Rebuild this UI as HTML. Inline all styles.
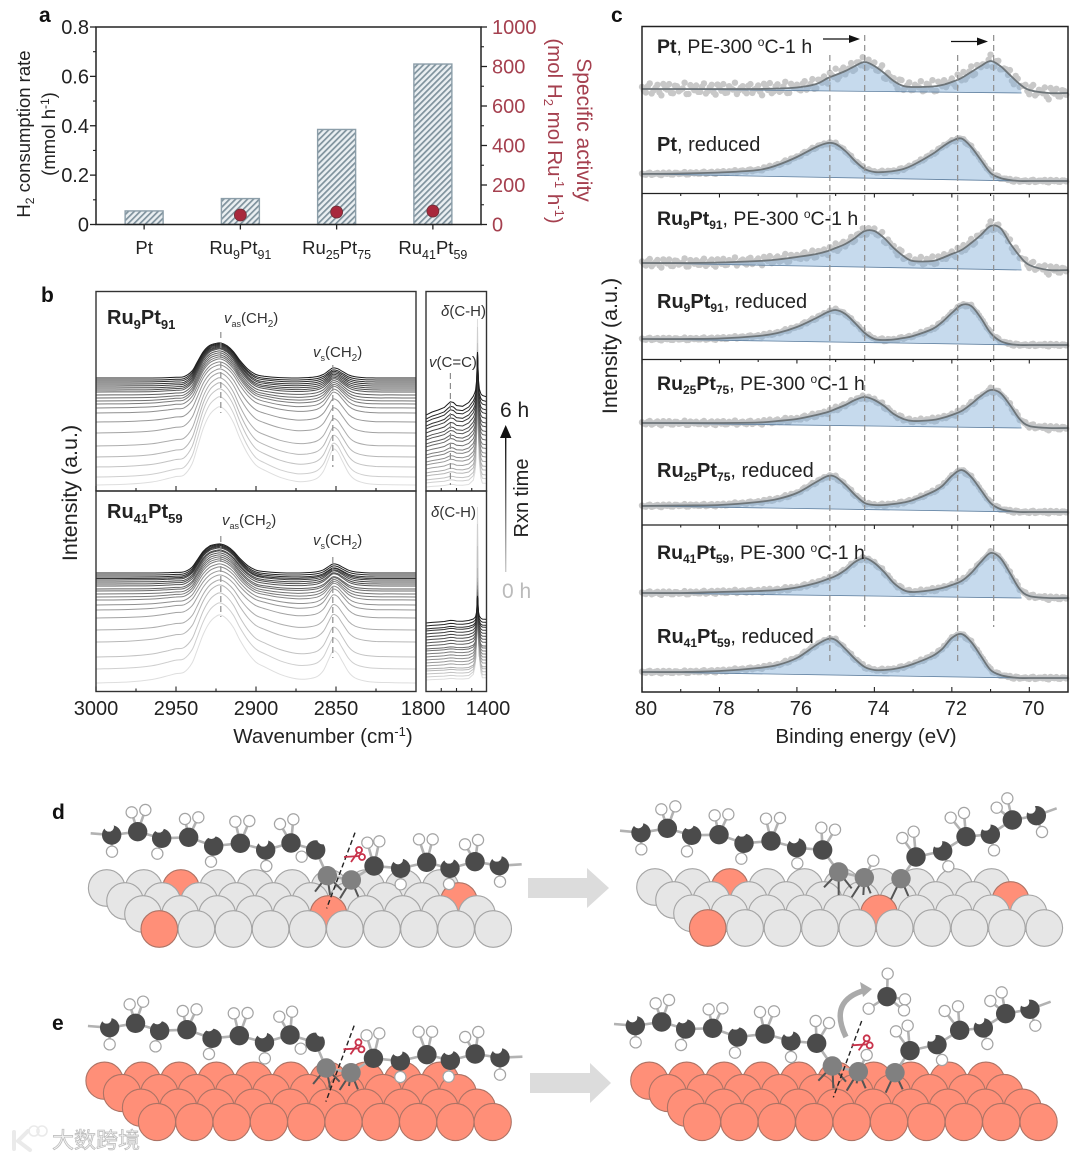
<!DOCTYPE html>
<html lang="en">
<head>
<meta charset="utf-8">
<title>Catalyst characterization figure</title>
<style>
html,body{margin:0;padding:0;background:#fff}
svg{display:block;position:absolute;left:0;top:0}
text{font-family:"Liberation Sans","Noto Sans CJK SC",sans-serif;fill:#222}
.b{font-weight:bold}
.tk{font-size:20px}
.cl{font-size:18.5px}
.pn{font-size:21px;font-weight:bold;fill:#111}
.bd{font-size:15px;fill:#333}
.red{fill:#a5404f}
</style>
</head>
<body>
<svg id="fig" xmlns="http://www.w3.org/2000/svg" width="1080" height="1159" viewBox="0 0 1080 1159">
<defs>
<pattern id="hatch" patternUnits="userSpaceOnUse" width="4.2" height="4.2" patternTransform="rotate(-45)">
<rect width="4.2" height="4.2" fill="#eaeff2"/>
<rect width="4.2" height="1.7" fill="#7f929d"/>
</pattern>
<clipPath id="clipB1"><rect x="426" y="291" width="61" height="200"/></clipPath>
<clipPath id="clipB2"><rect x="426" y="491" width="61" height="201"/></clipPath>
<linearGradient id="timeGrad" x1="0" y1="0" x2="0" y2="1"><stop offset="0" stop-color="#111"/><stop offset="1" stop-color="#ccc"/></linearGradient>
</defs>

<!-- panel letters -->
<text class="pn" x="39" y="22">a</text>
<text class="pn" x="41" y="302">b</text>
<text class="pn" x="611" y="22">c</text>
<text class="pn" x="52" y="819">d</text>
<text class="pn" x="52" y="1030">e</text>

<!-- panel a titles -->
<text font-size="18.5" transform="translate(30,134) rotate(-90)" text-anchor="middle">H<tspan font-size="12" dy="4">2</tspan><tspan dy="-4"> consumption rate</tspan></text>
<text font-size="18.5" transform="translate(55,134) rotate(-90)" text-anchor="middle">(mmol h<tspan font-size="12" dy="-6">-1</tspan><tspan dy="6">)</tspan></text>
<text font-size="21" class="red" transform="translate(577,130) rotate(90)" text-anchor="middle">Specific activity</text>
<text font-size="20.5" class="red" transform="translate(548,131) rotate(90)" text-anchor="middle">(mol H<tspan font-size="13" dy="4">2</tspan><tspan dy="-4"> mol Ru</tspan><tspan font-size="13" dy="-7">-1</tspan><tspan dy="7"> h</tspan><tspan font-size="13" dy="-7">-1</tspan><tspan dy="7">)</tspan></text>

<!-- panel b text -->
<text font-size="20" class="b" x="107" y="324">Ru<tspan font-size="13" dy="5">9</tspan><tspan dy="-5">Pt</tspan><tspan font-size="13" dy="5">91</tspan></text>
<text font-size="20" class="b" x="107" y="518">Ru<tspan font-size="13" dy="5">41</tspan><tspan dy="-5">Pt</tspan><tspan font-size="13" dy="5">59</tspan></text>
<text class="bd" x="224" y="323"><tspan font-style="italic">v</tspan><tspan font-size="9" dy="4">as</tspan><tspan dy="-4">(CH</tspan><tspan font-size="10" dy="4">2</tspan><tspan dy="-4">)</tspan></text>
<text class="bd" x="313" y="357"><tspan font-style="italic">v</tspan><tspan font-size="9" dy="4">s</tspan><tspan dy="-4">(CH</tspan><tspan font-size="10" dy="4">2</tspan><tspan dy="-4">)</tspan></text>
<text class="bd" x="222" y="525"><tspan font-style="italic">v</tspan><tspan font-size="9" dy="4">as</tspan><tspan dy="-4">(CH</tspan><tspan font-size="10" dy="4">2</tspan><tspan dy="-4">)</tspan></text>
<text class="bd" x="313" y="545"><tspan font-style="italic">v</tspan><tspan font-size="9" dy="4">s</tspan><tspan dy="-4">(CH</tspan><tspan font-size="10" dy="4">2</tspan><tspan dy="-4">)</tspan></text>
<text class="bd" x="441" y="316"><tspan font-style="italic">δ</tspan>(C-H)</text>
<text class="bd" x="429" y="367"><tspan font-style="italic">v</tspan>(C=C)</text>
<text class="bd" x="431" y="517"><tspan font-style="italic">δ</tspan>(C-H)</text>
<text font-size="21.5" transform="translate(77,493) rotate(-90)" text-anchor="middle">Intensity (a.u.)</text>
<text font-size="20.5" x="323" y="743" text-anchor="middle">Wavenumber (cm<tspan font-size="13" dy="-7">-1</tspan><tspan dy="7">)</tspan></text>
<text font-size="21" x="500" y="417">6 h</text>
<text font-size="21" x="502" y="598" style="fill:#bbb">0 h</text>
<text font-size="20" transform="translate(528,498) rotate(-90)" text-anchor="middle">Rxn time</text>
<rect x="505" y="436" width="1.4" height="136" fill="url(#timeGrad)"/>
<polygon points="505.7,425 500,438 511.4,438" fill="#111"/>

<!-- panel c text -->
<text font-size="21.5" transform="translate(617,346) rotate(-90)" text-anchor="middle">Intensity (a.u.)</text>
<text font-size="20.5" x="866" y="743" text-anchor="middle">Binding energy (eV)</text>

<g id="root"></g>

<g id="clabels">
<text font-size="19.5" x="657" y="53"><tspan class="b">Pt</tspan>, PE-300 <tspan font-size="12" dy="-7">o</tspan><tspan dy="7">C-1 h</tspan></text>
<text font-size="20" x="657" y="151"><tspan class="b">Pt</tspan>, reduced</text>
<text font-size="19.5" x="657" y="225"><tspan class="b">Ru</tspan><tspan class="b" font-size="12" dy="4">9</tspan><tspan class="b" dy="-4">Pt</tspan><tspan class="b" font-size="12" dy="4">91</tspan><tspan dy="-4">, PE-300 </tspan><tspan font-size="12" dy="-7">o</tspan><tspan dy="7">C-1 h</tspan></text>
<text font-size="20" x="657" y="308"><tspan class="b">Ru</tspan><tspan class="b" font-size="12" dy="4">9</tspan><tspan class="b" dy="-4">Pt</tspan><tspan class="b" font-size="12" dy="4">91</tspan><tspan dy="-4">, reduced</tspan></text>
<text font-size="19.5" x="657" y="390"><tspan class="b">Ru</tspan><tspan class="b" font-size="12" dy="4">25</tspan><tspan class="b" dy="-4">Pt</tspan><tspan class="b" font-size="12" dy="4">75</tspan><tspan dy="-4">, PE-300 </tspan><tspan font-size="12" dy="-7">o</tspan><tspan dy="7">C-1 h</tspan></text>
<text font-size="20" x="657" y="477"><tspan class="b">Ru</tspan><tspan class="b" font-size="12" dy="4">25</tspan><tspan class="b" dy="-4">Pt</tspan><tspan class="b" font-size="12" dy="4">75</tspan><tspan dy="-4">, reduced</tspan></text>
<text font-size="19.5" x="657" y="559"><tspan class="b">Ru</tspan><tspan class="b" font-size="12" dy="4">41</tspan><tspan class="b" dy="-4">Pt</tspan><tspan class="b" font-size="12" dy="4">59</tspan><tspan dy="-4">, PE-300 </tspan><tspan font-size="12" dy="-7">o</tspan><tspan dy="7">C-1 h</tspan></text>
<text font-size="20" x="657" y="643"><tspan class="b">Ru</tspan><tspan class="b" font-size="12" dy="4">41</tspan><tspan class="b" dy="-4">Pt</tspan><tspan class="b" font-size="12" dy="4">59</tspan><tspan dy="-4">, reduced</tspan></text>
</g>

<!-- shift arrows -->
<g><line x1="823" y1="39" x2="852" y2="39" stroke="#111" stroke-width="1.3"/><polygon points="860,39 849,35 849,43" fill="#111"/></g>
<g><line x1="951" y1="41.5" x2="980" y2="41.5" stroke="#111" stroke-width="1.3"/><polygon points="988,41.5 977,37.5 977,45.5" fill="#111"/></g>

<!-- process arrows -->
<polygon points="528,878 587,878 587,868 609,888 587,908 587,898 528,898" fill="#dcdcdc"/>
<polygon points="530,1073 590,1073 590,1063 611,1083 590,1103 590,1093 530,1093" fill="#dcdcdc"/>

<g id="mech"></g>

<!-- watermark -->
<g>
<path d="M14 1132 L14 1149 M28 1131 L18 1141 L30 1150" fill="none" stroke="#eaeaea" stroke-width="4" stroke-linecap="round"/>
<circle cx="34" cy="1131" r="5" fill="none" stroke="#eaeaea" stroke-width="1.6"/>
<circle cx="42" cy="1131" r="5" fill="none" stroke="#eaeaea" stroke-width="1.6"/>
<text x="52" y="1148" font-size="22" style="fill:#f2f2f2;stroke:#b9b9b9;stroke-width:.7">大数跨境</text>
</g>

<script>
/* ---------- panel a data ---------- */
var categories = ['Pt', 'Ru9Pt91', 'Ru25Pt75', 'Ru41Pt59'];
var h2Rates = [0.055, 0.105, 0.385, 0.65];
var specificActivity = [null, 48, 63, 68];
var leftTicks = [0, 0.2, 0.4, 0.6, 0.8];
var rightTicks = [0, 200, 400, 600, 800, 1000];

/* ---------- panel b data ---------- */
var wavenumbers = [3000,2980,2965,2955,2950,2945,2940,2937,2933,2929,2925,2922,2918,2914,2910,2905,2900,2895,2885,2875,2868,2862,2858,2855,2852,2849,2846,2842,2838,2832,2825,2815,2800];
var asBand = [0,0,0,.01,.02,.04,.2,.43,.75,.93,.99,1,.92,.75,.5,.25,.1,.05,.01,0,0,0,0,0,0,0,0,0,0,0,0,0,0];
var sBand = [0,0,0,0,0,0,0,0,0,0,0,0,0,0,0,0,0,0,0,0,.04,.14,.35,.68,1,.93,.66,.3,.12,.03,0,0,0];
var broadBand = [0,.03,.1,.2,.25,.27,.38,.5,.68,.85,.97,1,.95,.87,.75,.62,.5,.42,.24,.12,.08,.06,.05,.05,.05,.05,.05,.05,.04,.03,.02,.01,0];
var ru9Base = [0,8,18,28,39,52,63,72,77,81,84,87,90,93,95,97,99,101,103,105,107];
var ru9As = [48,52,52,50,46,40,36,34,34,35,36,37,37,37,38,38,37,37,36,36,35];
var ru9S = [34,32,30,28,26,24,22,20,18,17,16,15,14,13,12.5,12,11.5,11,10.5,10,10];
var ru9Broad = [30,28,26,24,22,20,17,14,12,10,8,6,5,4,3,2,2,1,1,0,0];
var ru41Base = [0,14,26,41,53,65,73,78,83,86,89,92,94,97,99,101,103,104.5,106,108,110];
var ru41As = [33,33,34,30,26,23,23,25,26,28,29,29,30,30,30,30,30,30.5,30,30,29];
var ru41S = [30,29,28,26,24,22,20,18,16,15,14,13,12,12,11,11,10,10,9,9,9];
var ru41Broad = [35,33,30,27,24,20,16,13,10,8,6,5,4,3,3,2,2,1,1,0,0];
var lowWavenumbers = [1800,1760,1720,1680,1660,1640,1620,1600,1560,1520,1490,1480,1475,1468,1462,1456,1450,1440,1430,1400];
var lowBroad = [0,.12,.2,.3,.42,.53,.5,.38,.35,.5,.72,.8,.85,.92,1,.92,.85,.8,.78,.72];
var lowSpike = [0,0,0,0,0,0,0,0,0,0,.02,.06,.1,.3,1,.3,.12,.03,0,0];
var lowRu9Base = [0,4,7,11,14,18,22,25,29,32,36,40,43,47,50,54,58,61,65,68,72];
var lowRu9BroadAmp = [5,6,7,8,9,10,11,12,13,14,15,16,17,18,19,20,21,22,23,24,25];
var lowRu9SpikeAmp = [163,150,130,118,108,100,94,90,85,80,74,70,66,62,60,56,52,50,46,42,38];
var lowRu41Base = [0,3,6,9,11,14,17,20,23,26,29,31,34,37,40,43,46,49,51,54,57];
var lowRu41BroadAmp = [3,3,3,3,3,4,4,4,4,4,4,4,5,5,5,5,5,5,5,5,5];
var lowRu41SpikeAmp = [170,150,125,100,88,80,74,70,64,60,55,50,46,42,38,35,32,29,27,24,22];
var highTicks = [3000, 2950, 2900, 2850];
var highTickLabels = ['3000', '2950', '2900', '2850'];
var lowTickLabels = ['1800', '1400'];

/* ---------- panel c data ---------- */
var energies = [80,79,78,77,76.5,76,75.5,75.2,75,74.75,74.5,74.25,74,73.75,73.5,73.25,73,72.5,72.25,72,71.75,71.5,71.25,71,70.75,70.5,70.25,70,69.5,69];
var ptPE = [4,4,4,4,4.5,5.5,9,15,18,22,27,31,27,20,12,7,6,6.5,8,11,15,21,27,32,27,18,9,3,0,0];
var ptReduced = [7,7.5,8.5,11,16,24,34,38,37,30,20,12,9,9,10,12,16,27,34,40,42.5,34,21,8,3,1,0,0,0,0];
var ru9PE = [7,7,7.5,9,10.5,13,16,19,22,26,32,39,39,32,22,14,9,9,12,16,20,27,35,44,42,27,14,5,0,0];
var ru9Reduced = [6,6,6.5,9,12,18,27,33,35,31,22,12,6,5,5.5,7,9,16,23,32,40,39,27,12,4,1,0,0,0,0];
var ru25PE = [5,5,5,5.5,7,9,13,16,19,23,28,31,28,22,14,9,7,8,10,13,17,24,32,38,35,23,9,2,0,0];
var ru25Reduced = [6,6.5,7,10,13,19,30,36,35,27,17,9,7,7,8,9.5,12,20,26,36,42,35,22,9,3,1,0,0,0,0];
var ru41PE = [5,5,6,7,8,10.5,15,19,22,28,36,40,35,26,15,8,6,8,10,13,17,25,36,45,40,25,9,2,0,0];
var ru41Reduced = [6,6,7,10,13,20,33,39,38,29,19,11,8,8,9,11,14,22,29,40,44,36,22,8,3,1,0,0,0,0];
var stackOffsets = [599, 511, 422, 347, 264, 180, 94, 14];
var scatterSpread = [7, 1.5, 5, 1.5, 2.5, 1.5, 2, 1.5];
var scatterResiduals = [.3,-.5,.8,-.2,.6,-.9,.1,.7,-.6,.4,-.1,.9,-.7,.2,.5,-.4,.8,-.3,.6,-.8,.3,.7,-.5,.1,.9,-.2,.4,-.6,.7,-.1,.5,-.9,.2,.8,-.4,.6,-.3,.9,-.7,.1,.4,-.5,.7,-.2,.8,-.6,.3,.5,-.8,.2,.9,-.4,.6,-.1,.7,-.5,.3,.8,-.7,.1,.5,-.3,.9,-.6,.2,.4,-.8,.7,-.2,.6,-.4,.1,.8,-.5,.3,.9,-.7,.2,.6,-.1,.5,-.9,.4,.7,-.3,.8,-.6,.2,.1,-.4,.9,-.5,.6,-.2,.3,.7,-.8,.5,-.1,.4,-.6,.8,-.3,.2,.7,-.9,.1,.6,-.5,.3];
var energyTicks = [80, 78, 76, 74, 72, 70];
var reducedPeaks = [75.15, 71.85];
var shiftedPeaks = [74.25, 70.92];

/* ---------- helpers ---------- */
var NS = 'http://www.w3.org/2000/svg';
var root = document.getElementById('root');
function mk(tag, attrs, parent) {
  var e = document.createElementNS(NS, tag);
  for (var k in attrs) e.setAttribute(k, attrs[k]);
  (parent || root).appendChild(e);
  return e;
}
function smoothPath(pts) {
  var d = 'M' + pts[0][0].toFixed(1) + ' ' + pts[0][1].toFixed(1);
  for (var i = 0; i < pts.length - 1; i++) {
    var p0 = pts[Math.max(i - 1, 0)], p1 = pts[i], p2 = pts[i + 1], p3 = pts[Math.min(i + 2, pts.length - 1)];
    var c1x = p1[0] + (p2[0] - p0[0]) / 6, c1y = p1[1] + (p2[1] - p0[1]) / 6;
    var c2x = p2[0] - (p3[0] - p1[0]) / 6, c2y = p2[1] - (p3[1] - p1[1]) / 6;
    d += 'C' + c1x.toFixed(1) + ' ' + c1y.toFixed(1) + ' ' + c2x.toFixed(1) + ' ' + c2y.toFixed(1) + ' ' + p2[0].toFixed(1) + ' ' + p2[1].toFixed(1);
  }
  return d;
}
function polyPath(pts) {
  return 'M' + pts.map(function (p) { return p[0].toFixed(1) + ' ' + p[1].toFixed(1); }).join('L');
}
function tickLine(parent, x1, y1, x2, y2, w) {
  var t = mk('line', {x1: x1, y1: y1, x2: x2, y2: y2, stroke: '#222', 'stroke-width': w || 1.1}, parent);
  
  
  return t;
}

/* ---------- panel a ---------- */
var gA = mk('g', {});


var aLeft = 96, aRight = 481, aBottom = 224.5, aTop = 27;
function xA(i) { return aLeft + (i + 0.5) * (aRight - aLeft) / categories.length; }
function yRate(v) { return aBottom - v / 0.8 * (aBottom - aTop); }
function yActivity(v) { return aBottom - v / 1000 * (aBottom - aTop); }
categories.forEach(function (c, i) {
  var bar = mk('rect', {x: xA(i) - 19, y: yRate(h2Rates[i]), width: 38, height: aBottom - yRate(h2Rates[i]), fill: 'url(#hatch)', stroke: '#8c9ea9', 'stroke-width': 1.4}, gA);
  
  
});
var frameA = mk('path', {d: 'M' + aLeft + ' ' + aBottom + 'V' + aTop + 'H' + aRight + 'V' + aBottom + 'Z', fill: 'none', stroke: '#222', 'stroke-width': 1.5}, gA);


specificActivity.forEach(function (v, i) {
  if (v === null) return;
  var dot = mk('circle', {cx: xA(i), cy: yActivity(v), r: 6, fill: '#a8283c', stroke: '#6b3038', 'stroke-width': 0.8}, gA);
  
  
});
leftTicks.forEach(function (v, i) {
  tickLine(gA, aLeft - 6, yRate(v), aLeft, yRate(v), 1.3);
  if (i < leftTicks.length - 1) tickLine(gA, aLeft - 3, yRate(v + 0.1), aLeft, yRate(v + 0.1));
  var t = mk('text', {x: aLeft - 7, y: yRate(v) + 7, 'text-anchor': 'end', 'class': 'tk'}, gA);
  t.textContent = v === 0 ? '0' : v.toFixed(1);
  
  
});
rightTicks.forEach(function (v, i) {
  tickLine(gA, aRight, yActivity(v), aRight + 6, yActivity(v), 1.3);
  if (i < rightTicks.length - 1) tickLine(gA, aRight, yActivity(v + 100), aRight + 3, yActivity(v + 100));
  var t = mk('text', {x: 492, y: yActivity(v) + 7, 'class': 'tk red'}, gA);
  t.textContent = String(v);
  
  
});
categories.forEach(function (c, i) {
  tickLine(gA, xA(i), aBottom, xA(i), aBottom + 5, 1.3);
  var t = mk('text', {x: xA(i), y: 254, 'text-anchor': 'middle', 'class': 'cl'}, gA);
  
  
  c.match(/[A-Za-z]+|\d+/g).forEach(function (part) {
    var isNum = /\d/.test(part);
    var s = mk('tspan', {}, t);
    s.textContent = part;
    if (isNum) { s.setAttribute('font-size', '12.5'); s.setAttribute('dy', '5'); }
    else if (t.childNodes.length > 1) { s.setAttribute('dy', '-5'); }
  });
});

/* ---------- panel b ---------- */
var gB = mk('g', {});


function xHigh(w) { return 96 + (3000 - w) * 1.6; }
function xLow(w) { return 426 + (1800 - w) * 0.1525; }
function yRu9(v) { return 485 - v; }
function yRu41(v) { return 683 - v; }
function yLowRu9(v) { return 487 - v; }
function yLowRu41(v) { return 680 - v; }
function traceColor(i, n) {
  var g = Math.round(222 - (222 - 28) * Math.pow(i / (n - 1), 0.85));
  return 'rgb(' + g + ',' + g + ',' + g + ')';
}
function drawHigh(base, as, s, broad, yFn) {
  base.forEach(function (b, i) {
    var pts = wavenumbers.map(function (w, k) {
      return [xHigh(w), yFn(b + as[i] * asBand[k] + s[i] * sBand[k] + broad[i] * broadBand[k])];
    });
    var p = mk('path', {d: smoothPath(pts), fill: 'none', stroke: traceColor(i, base.length), 'stroke-width': 1}, gB);
    
    
  });
}
function drawLow(base, broadAmp, spikeAmp, yFn, clip) {
  var gc = mk('g', {'clip-path': 'url(#' + clip + ')'}, gB);
  
  
  base.forEach(function (b, i) {
    var pts = lowWavenumbers.map(function (w, k) {
      return [xLow(w), yFn(b + broadAmp[i] * lowBroad[k] + spikeAmp[i] * lowSpike[k])];
    });
    var p = mk('path', {d: polyPath(pts), fill: 'none', stroke: traceColor(i, base.length), 'stroke-width': 1}, gc);
    
    
  });
}
drawHigh(ru9Base, ru9As, ru9S, ru9Broad, yRu9);
drawHigh(ru41Base, ru41As, ru41S, ru41Broad, yRu41);
drawLow(lowRu9Base, lowRu9BroadAmp, lowRu9SpikeAmp, yLowRu9, 'clipB1');
drawLow(lowRu41Base, lowRu41BroadAmp, lowRu41SpikeAmp, yLowRu41, 'clipB2');
function dashV(parent, x, y1, y2, name, dash) {
  var l = mk('line', {x1: x, y1: y1, x2: x, y2: y2, stroke: '#8d8d8d', 'stroke-width': 1.2, 'stroke-dasharray': dash || '6 4'}, parent);
  
  
}
dashV(gB, xHigh(2922), 332, 413, 'peak-guide-vas-top');
dashV(gB, xHigh(2852), 365, 467, 'peak-guide-vs-top');
dashV(gB, xHigh(2922), 536, 617, 'peak-guide-vas-bottom');
dashV(gB, xHigh(2852), 557, 658, 'peak-guide-vs-bottom');
dashV(gB, xLow(1640), 373, 485, 'peak-guide-vcc');
[[96, 416], [426, 486.5]].forEach(function (r, idx) {
  var f1 = mk('rect', {x: r[0], y: 291.5, width: r[1] - r[0], height: 199.5, fill: 'none', stroke: '#333', 'stroke-width': 1.4}, gB);
  
  
  var f2 = mk('rect', {x: r[0], y: 491, width: r[1] - r[0], height: 200.5, fill: 'none', stroke: '#333', 'stroke-width': 1.4}, gB);
  
  
});
highTicks.forEach(function (w, i) {
  [491, 691.5].forEach(function (y) {
    tickLine(gB, xHigh(w), y, xHigh(w), y - 5);
    tickLine(gB, xHigh(w - 25), y, xHigh(w - 25), y - 3);
  });
  var t = mk('text', {x: xHigh(w), y: 715, 'text-anchor': 'middle', 'class': 'tk'}, gB);
  t.textContent = highTickLabels[i];
  
  
});
[1700, 1600, 1500].forEach(function (w) {
  tickLine(gB, xLow(w), 691.5, xLow(w), 688);
  tickLine(gB, xLow(w), 491, xLow(w), 488);
});
var l1800 = mk('text', {x: 423, y: 715, 'text-anchor': 'middle', 'class': 'tk'}, gB);
l1800.textContent = lowTickLabels[0];


var l1400 = mk('text', {x: 488, y: 715, 'text-anchor': 'middle', 'class': 'tk'}, gB);
l1400.textContent = lowTickLabels[1];



/* ---------- panel c ---------- */
var gC = mk('g', {});


function xE(e) { return 642 + (80 - e) * 38.73; }
function yI(v) { return 692 - v; }
function fitAt(series, e) {
  if (e >= energies[0]) return series[0];
  for (var k = 0; k < energies.length - 1; k++) {
    if (e <= energies[k] && e >= energies[k + 1]) {
      var t = (energies[k] - e) / (energies[k] - energies[k + 1]);
      return series[k] + (series[k + 1] - series[k]) * t;
    }
  }
  return series[series.length - 1];
}
[ptPE, ptReduced, ru9PE, ru9Reduced, ru25PE, ru25Reduced, ru41PE, ru41Reduced].forEach(function (series, si) {
  var off = stackOffsets[si];
  var g = mk('g', {}, gC);
  
  
  var pts = energies.map(function (e, k) { return [xE(e), yI(off + series[k])]; });
  /* measured points: two interleaved sweeps of the residual list */
  scatterResiduals.forEach(function (res, k) {
    var e = 80 - k * 0.1;
    var dot = mk('circle', {cx: xE(e), cy: yI(off + fitAt(series, e) + res * scatterSpread[si]), r: 3.2, fill: '#c8c8c8'}, g);
    
    
    var e2 = e - 0.05;
    var dot2 = mk('circle', {cx: xE(e2), cy: yI(off + fitAt(series, e2) - res * scatterSpread[si] * 0.8), r: 3.2, fill: '#c8c8c8'}, g);
    
    
  });
  if (scatterSpread[si] < 3) {
    var band = mk('path', {d: smoothPath(pts), fill: 'none', stroke: '#c4c6c8', 'stroke-width': 5}, g);
    
    
  }
  var bg = function (e) { return series[0] * Math.max(e - 70.2, 0) / 9.8; };
  var fillPts = energies.filter(function (e) { return e >= 70.2; }).map(function (e) {
    return [xE(e), yI(off + Math.max(fitAt(series, e), bg(e)))];
  });
  var area = mk('path', {d: polyPath(fillPts) + 'L' + xE(70.2) + ' ' + yI(off) + 'L' + xE(80) + ' ' + yI(off + series[0]) + 'Z', fill: 'rgba(128,172,215,.45)'}, g);
  
  
  var bgLine = mk('line', {x1: xE(80), y1: yI(off + bg(80)), x2: xE(70.2), y2: yI(off), stroke: '#5f7f9f', 'stroke-width': 0.8}, g);
  
  
  var fit = mk('path', {d: smoothPath(pts), fill: 'none', stroke: '#6d7478', 'stroke-width': 1.8}, g);
  
  
});
dashV(gC, xE(reducedPeaks[0]), 55, 663, 'reduced-peak-guide', '6 4');
dashV(gC, xE(reducedPeaks[1]), 55, 664, 'reduced-peak-guide', '6 4');
dashV(gC, xE(shiftedPeaks[0]), 35, 627, 'shifted-peak-guide', '6 4');
dashV(gC, xE(shiftedPeaks[1]), 35, 627, 'shifted-peak-guide', '6 4');
var frameC = mk('rect', {x: 642, y: 26.5, width: 426, height: 665.5, fill: 'none', stroke: '#222', 'stroke-width': 1.5}, gC);


[193.5, 359.5, 525].forEach(function (y) {
  var sep = mk('line', {x1: 642, y1: y, x2: 1068, y2: y, stroke: '#222', 'stroke-width': 1.2}, gC);
  
  
  energyTicks.forEach(function (e) {
    tickLine(gC, xE(e), y, xE(e), y + 4);
    if (e > 70) tickLine(gC, xE(e - 1), y, xE(e - 1), y + 2.5);
  });
});
energyTicks.forEach(function (e) {
  tickLine(gC, xE(e), 692, xE(e), 687);
  if (e > 70) tickLine(gC, xE(e - 1), 692, xE(e - 1), 689);
  var t = mk('text', {x: xE(e) + 4, y: 715, 'text-anchor': 'middle', 'class': 'tk'}, gC);
  t.textContent = String(e);
  
  
});

/* ---------- panels d / e illustrations ---------- */
var mech = document.getElementById('mech');
function surface(rows, dx, r, orange) {
  var g = mk('g', {}, mech);
  
  
  rows.forEach(function (row, ri) {
    for (var i = 0; i < 10; i++) {
      var o = orange === true || (orange && orange.indexOf(ri + '-' + i) >= 0);
      var a = mk('circle', {cx: row[0] + i * dx, cy: row[1], r: r, fill: o ? '#ff8f78' : '#e6e6e6', stroke: o ? '#ad7365' : '#a4a4a4', 'stroke-width': 1.1}, g);
      
      
    }
  });
}
function molecule(o, m) {
  var g = mk('g', {}, mech);
  
  
  var X = function (x) { return o[0] + x * o[2]; }, Y = function (y) { return o[1] + y * o[3]; };
  var all = m.carbons.concat(m.gray);
  function nearest(h) {
    var best = all[0], bd = 1e9;
    all.forEach(function (c) { var d = (c[0] - h[0]) * (c[0] - h[0]) + (c[1] - h[1]) * (c[1] - h[1]); if (d < bd) { bd = d; best = c; } });
    return best;
  }
  function bond(a, b, c, w) {
    var l = mk('line', {x1: X(a[0]), y1: Y(a[1]), x2: X(b[0]), y2: Y(b[1]), stroke: c || '#b2b2b2', 'stroke-width': w || 2.6}, g);
    
    
  }
  m.chain.forEach(function (c, i) { if (i) bond(m.chain[i - 1], c); });
  m.legs.forEach(function (l) {
    if (Math.abs(l[1][1] - l[0][1]) > 25 && l[1][1] > l[0][1]) bond(l[0], l[1], '#555', 2);
    else bond(l[0], l[1]);
  });
  function hydrogen(h, front) {
    var c = nearest(h);
    bond(c, h);
    var a = mk('circle', {cx: X(h[0]), cy: Y(h[1]), r: 5.6, fill: '#fff', stroke: front ? '#fff' : '#a4a4a4', 'stroke-width': 1.2}, g);
    
    
  }
  m.back.forEach(function (h) { hydrogen(h, false); });
  m.carbons.forEach(function (c) {
    var a = mk('circle', {cx: X(c[0]), cy: Y(c[1]), r: 9.7, fill: '#4b4b4b'}, g);
    
    
  });
  m.gray.forEach(function (c) {
    var a = mk('circle', {cx: X(c[0]), cy: Y(c[1]), r: 9.7, fill: '#808080'}, g);
    
    
  });
  m.front.forEach(function (h) {
    var a = mk('circle', {cx: X(h[0]), cy: Y(h[1]), r: 5, fill: '#fff'}, g);
    
    
  });
  if (m.cut) {
    var d = mk('line', {x1: X(m.cut[0][0]), y1: Y(m.cut[0][1]), x2: X(m.cut[1][0]), y2: Y(m.cut[1][1]), stroke: '#222', 'stroke-width': 1.4, 'stroke-dasharray': '5 3'}, g);
    
    
  }
  if (m.scissors) {
    var sx = X(m.scissors[0]), sy = Y(m.scissors[1]);
    var sc = mk('g', {stroke: '#c8324a', fill: 'none', 'stroke-width': 1.8}, g);
    
    
    mk('circle', {cx: sx + 5, cy: sy - 5, r: 3}, sc);
    mk('circle', {cx: sx + 8, cy: sy + 2, r: 3}, sc);
    mk('line', {x1: sx - 10, y1: sy + 2, x2: sx + 6, y2: sy + 1}, sc);
    mk('line', {x1: sx - 3, y1: sy + 7, x2: sx + 4, y2: sy - 3}, sc);
  }
}
surface([[106.7, 888], [125, 901], [143, 914], [159.3, 929]], 37.1, 18.3, ['0-2', '1-9', '2-5', '3-0']);
surface([[655, 887], [674, 900], [692, 913.3], [707.7, 928]], 37.4, 18.3, ['0-2', '1-9', '2-5', '3-0']);
surface([[104.5, 1080.7], [122, 1093], [141, 1107.7], [157, 1122]], 37.3, 18.6, true);
surface([[649.3, 1080.7], [667.7, 1093], [686, 1107.7], [702, 1122]], 37.4, 18.6, true);

molecule([40, 780, 1 / 3, 1 / 3], {
  carbons: [[215,165],[293,155],[365,175],[446,172],[521,198],[601,190],[677,210],[753,189],[827,210],[1002,258],[1082,265],[1160,247],[1230,265],[1305,245],[1378,257]],
  gray: [[862,287],[934,300]],
  chain: [[152,160],[215,165],[293,155],[365,175],[446,172],[521,198],[601,190],[677,210],[753,189],[827,210],[862,287],[934,300],[1002,258],[1082,265],[1160,247],[1230,265],[1305,245],[1378,257],[1445,253]],
  back: [[275,97],[316,90],[435,117],[475,112],[586,125],[628,123],[720,132],[760,118],[982,188],[1018,184],[1137,178],[1178,178],[1275,193],[1314,180],[216,215],[352,221],[513,245],[679,258],[785,230],[1082,313],[1227,312],[1380,305]],
  front: [[207,140],[357,143],[514,162],[670,185],[847,178],[1074,238],[1227,236],[1370,230]],
  legs: [[[862,287],[825,335]],[[862,287],[870,345]],[[862,287],[905,330]],[[934,300],[900,355]],[[934,300],[955,350]]],
  cut: [[945,158],[860,385]],
  scissors: [942,225]
});
molecule([600, 780, 1 / 3, 1 / 3], {
  carbons: [[123,158],[202,145],[275,166],[357,164],[432,190],[513,183],[590,203],[668,210],[948,231],[1028,213],[1098,170],[1171,163],[1237,120],[1309,107]],
  gray: [[716,276],[793,293],[903,296]],
  chain: [[60,152],[123,158],[202,145],[275,166],[357,164],[432,190],[513,183],[590,203],[668,210],[716,276],[793,293]],
  back: [[184,88],[226,79],[344,106],[385,103],[498,116],[540,114],[664,143],[705,149],[907,174],[941,155],[1052,113],[1092,99],[1190,83],[1222,55],[124,208],[261,214],[424,236],[592,250],[820,242],[1045,259],[1182,211],[1326,156]],
  front: [[115,130],[266,133],[425,155],[582,175],[1012,188],[1157,137],[1292,86]],
  legs: [[[716,276],[672,322]],[[716,276],[716,345]],[[716,276],[755,325]],[[793,293],[755,352]],[[793,293],[790,345]],[[793,293],[812,340]],[[903,296],[873,358]],[[903,296],[925,348]],[[903,296],[948,231]],[[948,231],[1028,213]],[[1028,213],[1098,170]],[[1098,170],[1171,163]],[[1171,163],[1237,120]],[[1237,120],[1309,107]],[[1309,107],[1370,85]]]
});
molecule([0, 960, 1 / 2.9, 1 / 3], {
  carbons: [[318,203],[393,190],[463,212],[542,209],[615,235],[694,227],[767,247],[841,225],[914,247],[1083,295],[1161,303],[1238,284],[1306,301],[1378,282],[1450,293]],
  gray: [[946,324],[1018,338]],
  chain: [[255,198],[318,203],[393,190],[463,212],[542,209],[615,235],[694,227],[767,247],[841,225],[914,247],[946,324],[1018,338],[1083,295],[1161,303],[1238,284],[1306,301],[1378,282],[1450,293],[1515,290]],
  back: [[376,133],[415,125],[530,153],[570,148],[678,160],[718,159],[810,170],[847,155],[1063,226],[1100,220],[1214,215],[1253,215],[1349,231],[1387,216],[318,253],[451,259],[606,282],[768,295],[872,266],[1161,351],[1301,350],[1450,344]],
  front: [[309,176],[456,178],[606,199],[760,220],[931,215],[1153,274],[1301,270],[1442,266]],
  legs: [[[946,324],[908,372]],[[946,324],[958,385]],[[946,324],[985,365]],[[1018,338],[985,390]],[[1018,338],[1012,378]],[[1018,338],[1038,388]]],
  cut: [[1027,197],[945,425]],
  scissors: [1025,262]
});
var curved = mk('path', {d: 'M846 1037 Q828 1000 866 990', fill: 'none', stroke: '#aaa', 'stroke-width': 5.5}, mech);


var curvedHead = mk('polygon', {points: '872,989 860,982 863,997', fill: '#aaa'}, mech);


molecule([600, 960, 1 / 3, 1 / 3], {
  carbons: [[106,197],[185,186],[257,207],[338,205],[413,231],[495,222],[573,243],[650,250],[930,272],[1011,254],[1079,211],[1150,204],[1217,161],[1290,148],[861,110]],
  gray: [[697,318],[775,335],[885,338]],
  chain: [[42,192],[106,197],[185,186],[257,207],[338,205],[413,231],[495,222],[573,243],[650,250],[697,318],[775,335]],
  back: [[167,130],[207,120],[326,148],[367,145],[480,156],[522,154],[647,183],[687,189],[888,214],[923,197],[1034,153],[1074,139],[1171,123],[1205,97],[107,247],[243,255],[405,278],[573,291],[800,285],[1026,300],[1162,252],[1306,197],[863,41],[915,118],[912,151],[806,146]],
  front: [[97,172],[248,175],[406,194],[565,215],[992,230],[1138,178],[1273,126]],
  legs: [[[697,318],[655,362]],[[697,318],[700,385]],[[697,318],[738,365]],[[775,335],[740,392]],[[775,335],[770,370]],[[775,335],[797,385]],[[885,338],[857,398]],[[885,338],[908,388]],[[885,338],[930,272]],[[930,272],[1011,254]],[[1011,254],[1079,211]],[[1079,211],[1150,204]],[[1150,204],[1217,161]],[[1217,161],[1290,148]],[[1290,148],[1352,125]]],
  cut: [[785,183],[700,412]],
  scissors: [785,250]
});
</script>
</svg>
</body>
</html>
